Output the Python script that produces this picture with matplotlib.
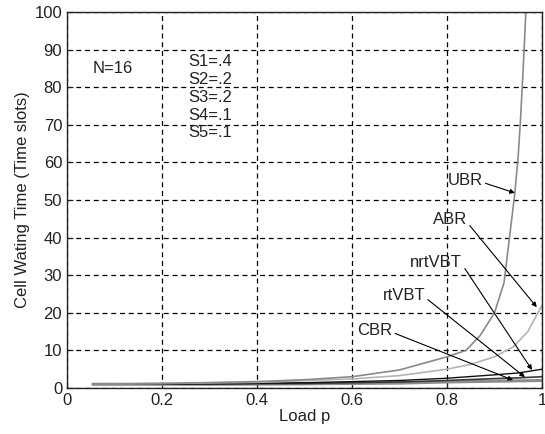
import numpy as np
import matplotlib
matplotlib.use('Agg')
import matplotlib.pyplot as plt

plt.rcParams['font.family'] = ['Liberation Sans', 'DejaVu Sans']

p_ubr = [0.055, 0.2, 0.4, 0.5, 0.6, 0.7, 0.8, 0.84, 0.87, 0.9, 0.92, 0.943, 0.95, 0.955, 0.96, 0.966]
ubr = [1.0, 1.2, 1.7, 2.2, 3.0, 4.8, 8.3, 10.0, 14.0, 20.0, 28.0, 52.0, 62.0, 72.0, 84.0, 100.0]

p_abr = [0.055, 0.4, 0.6, 0.7, 0.8, 0.85, 0.9, 0.94, 0.97, 1.0]
abr = [1.0, 1.5, 2.4, 3.3, 5.0, 6.3, 8.3, 11.0, 15.0, 22.0]

p_low = [0.055, 0.3, 0.5, 0.6, 0.7, 0.8, 0.9, 0.95, 1.0]
nrtvbt = [1.0, 1.1, 1.4, 1.7, 2.0, 2.6, 3.5, 4.0, 5.0]
rtvbt = [1.0, 1.05, 1.2, 1.4, 1.6, 2.0, 2.5, 2.7, 3.0]
cbr = [1.0, 1.0, 1.1, 1.2, 1.3, 1.6, 1.8, 1.9, 2.0]

labels = ['UBR', 'ABR', 'nrtVBT', 'rtVBT', 'CBR']
label_xy = [(0.838, 55.3), (0.806, 44.7), (0.777, 33.5), (0.709, 24.7), (0.648, 15.4)]
tip_xy = [(0.943, 51.9), (0.989, 21.5), (0.979, 4.8), (0.964, 2.9), (0.939, 2.1)]

fig = plt.figure(figsize=(5.45, 4.34), dpi=100)
ax = fig.add_axes([0.123, 0.106, 0.8715, 0.866])

ax.plot(p_low, cbr, color='#8c8c8c', lw=2.2)
ax.plot(p_low, rtvbt, color='#3a3a3a', lw=1.2)
ax.plot(p_low, nrtvbt, color='#111111', lw=1.0)
ax.plot(p_abr, abr, color='#b4b4b4', lw=1.2)
ax.plot(p_ubr, ubr, color='#8a8a8a', lw=1.2)

ax.set_xlim(0, 1)
ax.set_ylim(0, 100)
ax.set_xticks(np.arange(0, 1.01, 0.2))
ax.set_xticklabels(['0', '0.2', '0.4', '0.6', '0.8', '1'])
ax.set_yticks(np.arange(0, 101, 10))
ax.grid(True, color='black', linestyle=(0, (4, 3)), linewidth=0.9)
ax.tick_params(direction='in', labelsize=12, colors='#222222', length=4)
for s in ax.spines.values():
    s.set_color('#222222')
    s.set_linewidth(1.0)

ax.set_xlabel('Load p', fontsize=12, color='#222222', labelpad=1)
ax.set_ylabel('Cell Wating Time (Time slots)', fontsize=12, color='#222222', labelpad=3)

ax.text(0.053, 85.0, 'N=16', fontsize=12, color='#222222', va='center', ha='left')
s_txt = ['S1=.4', 'S2=.2', 'S3=.2', 'S4=.1', 'S5=.1']
s_y = [86.8, 82.1, 77.4, 72.6, 67.9]
for t, y in zip(s_txt, s_y):
    ax.text(0.255, y, t, fontsize=12, color='#222222', va='center', ha='left')

for lab, xy, tip in zip(labels, label_xy, tip_xy):
    ax.annotate(lab, xy=tip, xytext=xy, fontsize=12, color='#222222',
                ha='center', va='center',
                arrowprops=dict(arrowstyle='-|>', color='black', lw=0.8,
                                mutation_scale=7, shrinkA=0, shrinkB=0,
                                relpos=(1.0, 0.35)))

fig.savefig('out.png', dpi=100)
